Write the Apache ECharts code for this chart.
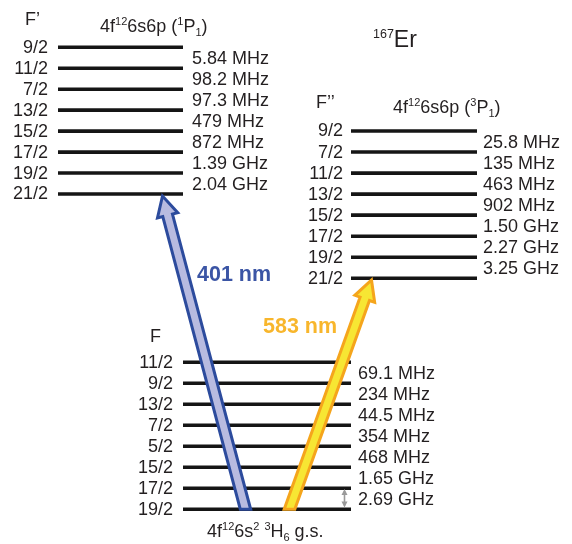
<!DOCTYPE html>
<html><head><meta charset="utf-8">
<script src="https://cdn.jsdelivr.net/npm/echarts@6/dist/echarts.min.js"></script>
<style>html,body{margin:0;padding:0;background:#fff}#c{width:572px;height:544px}</style>
</head><body><div id="c"></div>
<script>
// ---- data ----
const upperPLevels = ['9/2','11/2','7/2','13/2','15/2','17/2','19/2','21/2'];
const upperPSplits = ['5.84 MHz','98.2 MHz','97.3 MHz','479 MHz','872 MHz','1.39 GHz','2.04 GHz'];
const upperTLevels = ['9/2','7/2','11/2','13/2','15/2','17/2','19/2','21/2'];
const upperTSplits = ['25.8 MHz','135 MHz','463 MHz','902 MHz','1.50 GHz','2.27 GHz','3.25 GHz'];
const groundLevels = ['11/2','9/2','13/2','7/2','5/2','15/2','17/2','19/2'];
const groundSplits = ['69.1 MHz','234 MHz','44.5 MHz','354 MHz','468 MHz','1.65 GHz','2.69 GHz'];
const transitionLabels = ['401 nm','583 nm'];
const stateNames = ['4f{sup|12}6s6p ({sup|1}P{sub|1})','4f{sup|12}6s6p ({sup|3}P{sub|1})','4f{sup|12}6s{sup|2} {sup|3}H{sub|6} g.s.'];
const fHeaders = ["F’", "F’’", 'F'];
const isotope = '{isup|167}{big|Er}';

// ---- layout ----
const FONT = '"Liberation Sans", Arial, Helvetica, sans-serif';
const TXT = '#231f20';
const blocks = [
  {levels: upperPLevels, splits: upperPSplits, x0: 58, x1: 183, y0: 47.3, y1: 194, fx: 48, sx: 192},
  {levels: upperTLevels, splits: upperTSplits, x0: 351, x1: 477, y0: 131, y1: 278.3, fx: 343, sx: 483},
  {levels: groundLevels, splits: groundSplits, x0: 183, x1: 351, y0: 362.3, y1: 509.3, fx: 173, sx: 358}
];
function levelY(b, i) { return b.y0 + (b.y1 - b.y0) * i / (b.levels.length - 1); }

const levelLines = [];
const texts = [];
blocks.forEach((b, bi) => {
  b.levels.forEach((lab, i) => {
    const y = levelY(b, i);
    levelLines.push([b.x0, b.x1, y]);
    texts.push({x: b.fx, y: y + 0.5, text: lab, align: 'right'});
  });
  b.splits.forEach((lab, i) => {
    const y = (levelY(b, i) + levelY(b, i + 1)) / 2 + 1.2;
    texts.push({x: b.sx, y: y, text: lab, align: 'left'});
  });
});
texts.push({x: 25, y: 20, text: fHeaders[0], align: 'left'});
texts.push({x: 316, y: 103, text: fHeaders[1], align: 'left'});
texts.push({x: 150, y: 337, text: fHeaders[2], align: 'left'});
texts.push({x: 100, y: 27, text: stateNames[0], align: 'left'});
texts.push({x: 393, y: 108, text: stateNames[1], align: 'left'});
texts.push({x: 207, y: 532, text: stateNames[2], align: 'left'});
texts.push({x: 373, y: 41, text: isotope, align: 'left'});
texts.push({x: 197, y: 275, text: transitionLabels[0], align: 'left', bold: true, color: '#3b55a5'});
texts.push({x: 263, y: 327, text: transitionLabels[1], align: 'left', bold: true, color: '#f8b62c'});

// arrows: tail (x,y) -> tip (x,y)
const arrows = [
  [245.5, 509.3, 162.5, 196, '#b8bbe0', '#2c4b9d'],
  [289.5, 509.3, 371.5, 280, '#f7e633', '#f5a51c']
];

const chart = echarts.init(document.getElementById('c'), null, {renderer: 'canvas'});
chart.setOption({
  animation: false,
  backgroundColor: '#fff',
  grid: {left: 0, right: 0, top: 0, bottom: 0},
  xAxis: {type: 'value', min: 0, max: 572, show: false},
  yAxis: {type: 'value', min: 0, max: 544, inverse: true, show: false},
  series: [
    {
      type: 'custom', z: 2,
      data: levelLines,
      renderItem: (p, api) => {
        const a = api.coord([api.value(0), api.value(2)]);
        const b = api.coord([api.value(1), api.value(2)]);
        return {type: 'line', shape: {x1: a[0], y1: a[1], x2: b[0], y2: b[1]},
          style: {stroke: '#151515', lineWidth: 3.6}};
      }
    },
    {
      type: 'custom', z: 3,
      data: arrows.map(a => [a[0], a[1], a[2], a[3]]),
      renderItem: (p, api) => {
        const A = arrows[p.dataIndex];
        const t = api.coord([A[0], A[1]]);
        const h = api.coord([A[2], A[3]]);
        const dx = h[0] - t[0], dy = h[1] - t[1];
        const L = Math.hypot(dx, dy);
        const ux = dx / L, uy = dy / L;
        const nx = -uy, ny = ux;
        const w = 5, hw = 10.5, hl = 20;
        const bx = h[0] - ux * hl, by = h[1] - uy * hl;
        function cut(px, py) { const k = (t[1] - py) / uy; return [px + ux * k, t[1]]; }
        const pts = [
          cut(t[0] - nx * w, t[1] - ny * w),
          [bx - nx * w, by - ny * w],
          [bx - nx * hw, by - ny * hw],
          [h[0], h[1]],
          [bx + nx * hw, by + ny * hw],
          [bx + nx * w, by + ny * w],
          cut(t[0] + nx * w, t[1] + ny * w)
        ];
        return {type: 'polygon', shape: {points: pts},
          style: {fill: A[4], stroke: A[5], lineWidth: 3, lineJoin: 'miter'}};
      }
    },
    {
      type: 'custom', z: 3,
      data: [[344.5, 489, 507.5]],
      renderItem: (p, api) => {
        const a = api.coord([api.value(0), api.value(1)]);
        const b = api.coord([api.value(0), api.value(2)]);
        const c = '#9a9a9a';
        return {type: 'group', children: [
          {type: 'line', shape: {x1: a[0], y1: a[1] + 2, x2: b[0], y2: b[1] - 2}, style: {stroke: c, lineWidth: 1.6}},
          {type: 'polygon', shape: {points: [[a[0], a[1]], [a[0] - 3, a[1] + 6], [a[0] + 3, a[1] + 6]]}, style: {fill: c}},
          {type: 'polygon', shape: {points: [[b[0], b[1]], [b[0] - 3, b[1] - 6], [b[0] + 3, b[1] - 6]]}, style: {fill: c}}
        ]};
      }
    },
    {
      type: 'custom', z: 4,
      data: texts.map(t => [t.x, t.y]),
      renderItem: (p, api) => {
        const T = texts[p.dataIndex];
        const pt = api.coord([T.x, T.y]);
        const size = T.bold ? 21.5 : 18;
        return {type: 'text', x: pt[0], y: pt[1], style: {
          text: T.text, fill: T.color || TXT,
          font: (T.bold ? 'bold ' : '') + size + 'px ' + FONT,
          align: T.align, verticalAlign: 'middle', lineHeight: 22,
          rich: {
            sup: {fontSize: 11, fontFamily: FONT, verticalAlign: 'top', lineHeight: 12, fill: TXT},
            sub: {fontSize: 11, fontFamily: FONT, verticalAlign: 'bottom', lineHeight: 12, fill: TXT},
            isup: {fontSize: 12.5, fontFamily: FONT, verticalAlign: 'top', lineHeight: 14, fill: TXT},
            big: {fontSize: 23, fontFamily: FONT, lineHeight: 26, fill: TXT}
          }
        }};
      }
    }
  ]
});
</script></body></html>
